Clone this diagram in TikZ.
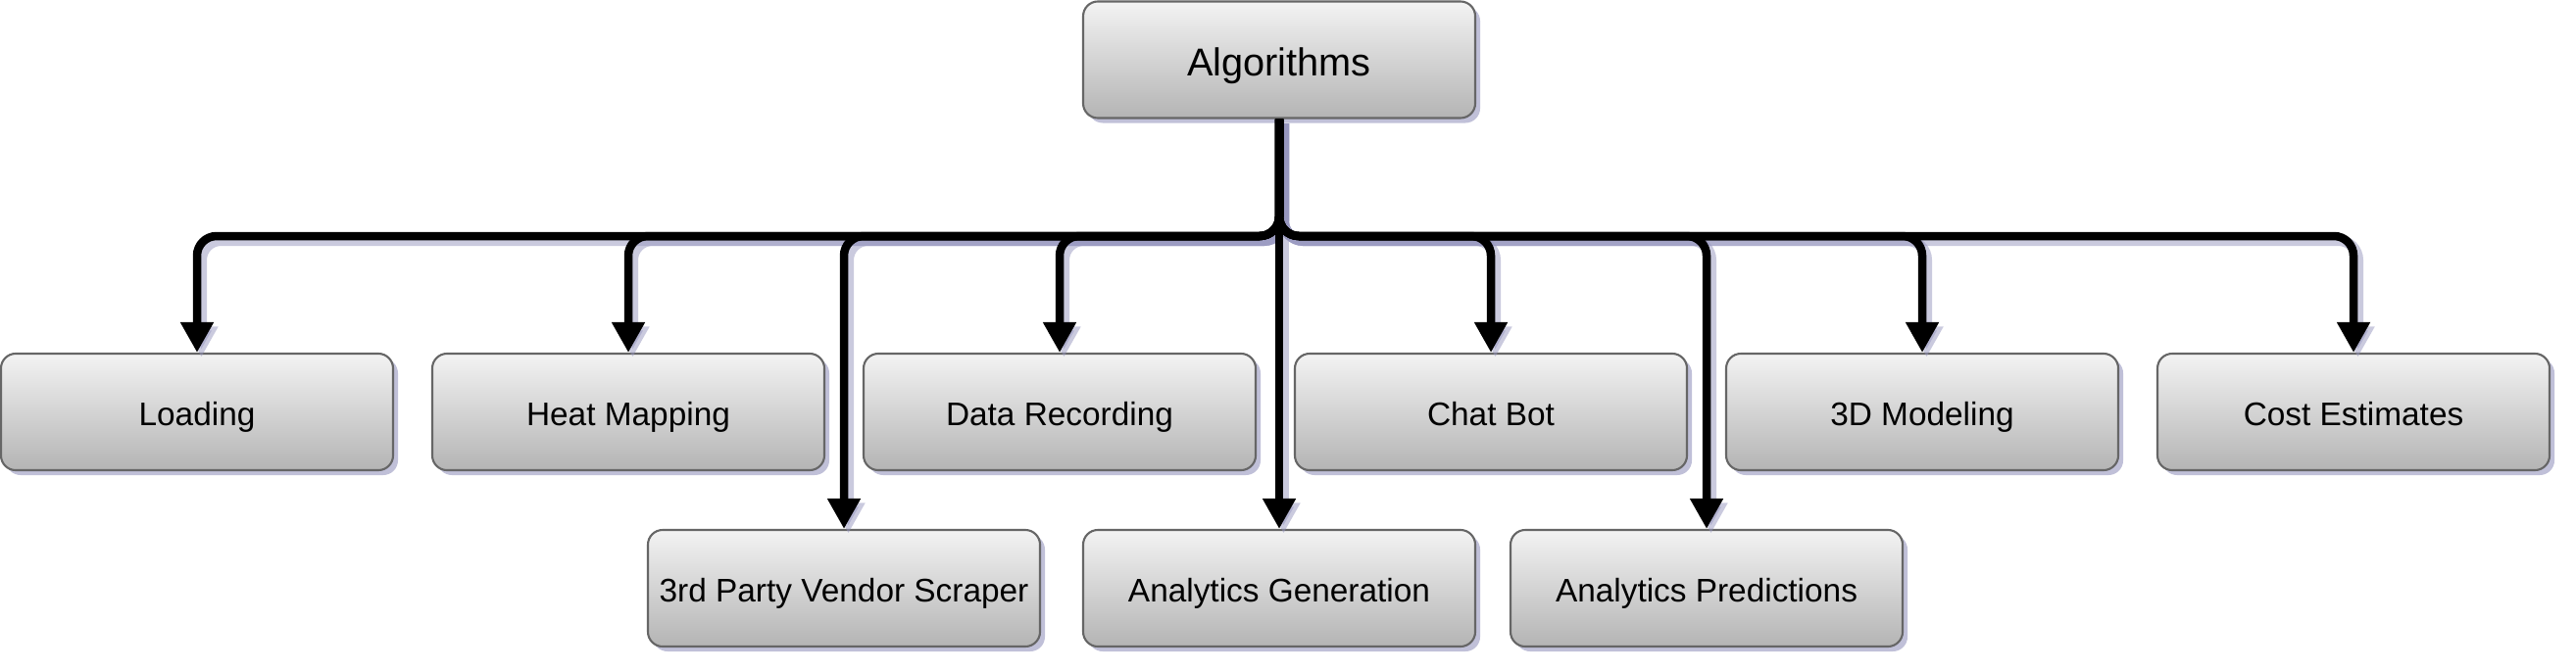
\documentclass[tikz,border=0pt]{standalone}
\usepackage{fontspec}
\setmainfont{Liberation Sans}
\usetikzlibrary{arrows.meta,shadows}
\definecolor{shadowblue}{RGB}{150,150,190}
\definecolor{boxline}{RGB}{102,102,102}

\begin{document}
\begin{tikzpicture}[
    box/.style={draw=boxline, line width=0.6pt, rounded corners=0.15cm,
      top color={rgb,255:red,243;green,243;blue,243},
      bottom color={rgb,255:red,180;green,180;blue,180},
      drop shadow={shadow xshift=0.5mm, shadow yshift=-0.5mm, fill=shadowblue, opacity=0.6},
      minimum width=4cm, minimum height=1.19cm, inner sep=0pt,
      font=\fontsize{9.5}{11}\selectfont, text height=8pt, text depth=0pt},
    topbox/.style={box, font=\fontsize{11.3}{13}\selectfont, text height=9.5pt},
    edge/.style={line width=0.85mm, rounded corners=0.2cm,
      -{Triangle[width=3.2mm,length=3.1mm]}},
    lineshadow/.style={draw=shadowblue, opacity=0.5, line width=1.1mm,
      transform canvas={shift={(0.45mm,-0.45mm)}}}
  ]
    \useasboundingbox (0,0) rectangle (26.28,-6.84);

    \node[topbox] (alg) at (13.05,-0.61) {Algorithms};

    \node[box] (load) at (2.01,-4.205) {Loading};
    \node[box] (heat) at (6.41,-4.205) {Heat Mapping};
    \node[box] (rec) at (10.81,-4.205) {Data Recording};
    \node[box] (chat) at (15.21,-4.205) {Chat Bot};
    \node[box] (model) at (19.61,-4.205) {3D Modeling};
    \node[box] (cost) at (24.01,-4.205) {Cost Estimates};

    \node[box] (vendor) at (8.61,-6.005) {3rd Party Vendor Scraper};
    \node[box] (gen) at (13.05,-6.005) {Analytics Generation};
    \node[box] (pred) at (17.41,-6.005) {Analytics Predictions};

    \coordinate (bus) at (13.05,-2.41);

    % shadows of the connectors first
    \foreach \n in {load,heat,rec,chat,model,cost,vendor,pred}
      \draw[edge,lineshadow] (alg.south) -- (bus) -| (\n.north);
    \draw[edge,lineshadow] (alg.south) -- (gen.north);

    % then the connectors
    \foreach \n in {load,heat,rec,chat,model,cost,vendor,pred}
      \draw[edge] (alg.south) -- (bus) -| (\n.north);
    \draw[edge] (alg.south) -- (gen.north);
\end{tikzpicture}
\end{document}
